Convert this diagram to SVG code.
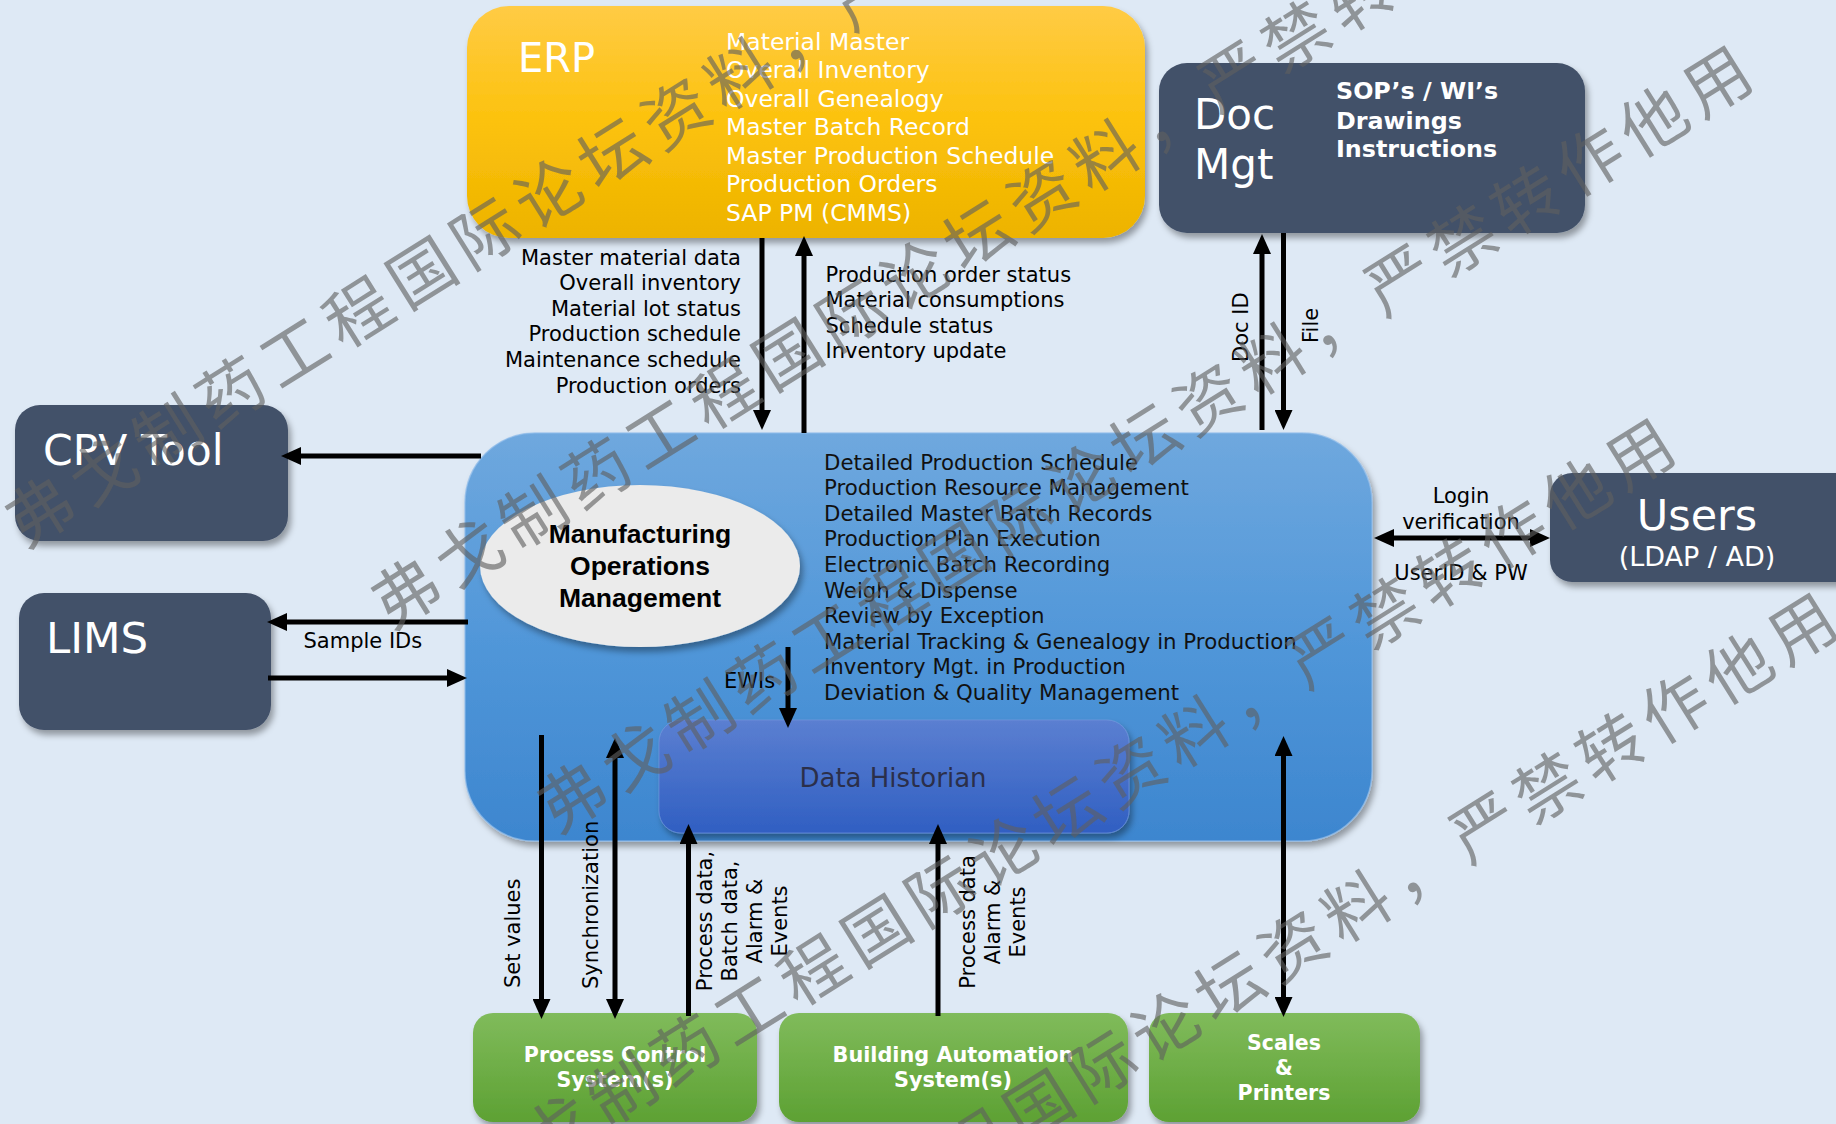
<svg xmlns="http://www.w3.org/2000/svg" width="1836" height="1124" viewBox="0 0 1836 1124">
<defs>
<style>
.t{font-family:"DejaVu Sans",Verdana,sans-serif}
.b{font-family:"DejaVu Sans",Verdana,sans-serif;font-weight:bold}
.w{fill:#ffffff}
.k{fill:#000000;font-size:21px}
.dark{fill:#435169}
.line{stroke:#000;stroke-width:5;fill:none}
.wm{font-family:"Noto Sans CJK SC","Noto Sans CJK JP",sans-serif;font-size:66px;letter-spacing:9px;fill:#5f5f5f;fill-opacity:0.62}
</style>
<linearGradient id="gErp" x1="0" y1="0" x2="0" y2="1"><stop offset="0" stop-color="#ffcb45"/><stop offset="0.5" stop-color="#fcc20c"/><stop offset="1" stop-color="#edb300"/></linearGradient>
<linearGradient id="gMom" x1="0" y1="0" x2="0" y2="1"><stop offset="0" stop-color="#6fa8de"/><stop offset="0.5" stop-color="#5197d9"/><stop offset="1" stop-color="#3d86cf"/></linearGradient>
<linearGradient id="gHist" x1="0" y1="0" x2="0" y2="1"><stop offset="0" stop-color="#5b7fd1"/><stop offset="1" stop-color="#305fc2"/></linearGradient>
<linearGradient id="gGreen" x1="0" y1="0" x2="0" y2="1"><stop offset="0" stop-color="#80bb5b"/><stop offset="1" stop-color="#5da133"/></linearGradient>
<filter id="sh" x="-10%" y="-10%" width="125%" height="140%"><feDropShadow dx="3" dy="5" stdDeviation="3" flood-color="#000" flood-opacity="0.35"/></filter>
<marker id="ah" markerUnits="userSpaceOnUse" viewBox="0 -9 20 18" markerWidth="20" markerHeight="18" refX="1" refY="0" orient="auto-start-reverse"><path d="M0,-9 L20,0 L0,9 Z" fill="#000"/></marker>
</defs>
<rect width="1836" height="1124" fill="#dee9f5"/>

<g id="erp">
<rect x="467" y="6" width="678" height="232" rx="42" fill="url(#gErp)" filter="url(#sh)"/>
<text class="t w" x="518" y="72" font-size="40">ERP</text>
<text class="t w" font-size="23.5"><tspan x="726" y="49.5">Material Master</tspan><tspan x="726" y="78">Overall Inventory</tspan><tspan x="726" y="106.5">Overall Genealogy</tspan><tspan x="726" y="135">Master Batch Record</tspan><tspan x="726" y="163.5">Master Production Schedule</tspan><tspan x="726" y="192">Production Orders</tspan><tspan x="726" y="220.5">SAP PM (CMMS)</tspan></text>
</g>

<g id="docmgt">
<rect class="dark" x="1159" y="63" width="426" height="170" rx="28" filter="url(#sh)"/>
<text class="t w" font-size="42"><tspan x="1194" y="129">Doc</tspan><tspan x="1194" y="179">Mgt</tspan></text>
<text class="b w" font-size="23.8"><tspan x="1336" y="99">SOP’s / WI’s</tspan><tspan x="1336" y="128.5">Drawings</tspan><tspan x="1336" y="157">Instructions</tspan></text>
</g>

<g id="cpv">
<rect class="dark" x="15" y="405" width="273" height="136" rx="25" filter="url(#sh)"/>
<text class="t w" x="43" y="465" font-size="42.5">CPV Tool</text>
</g>

<g id="lims">
<rect class="dark" x="19" y="593" width="252" height="137" rx="25" filter="url(#sh)"/>
<text class="t w" x="46" y="653" font-size="43.5">LIMS</text>
</g>

<g id="users">
<rect class="dark" x="1550" y="473" width="320" height="109" rx="22" filter="url(#sh)"/>
<text class="t w" x="1697" y="530" font-size="43" text-anchor="middle">Users</text>
<text class="t w" x="1697" y="566" font-size="27" text-anchor="middle">(LDAP / AD)</text>
</g>

<g id="mom">
<rect x="465" y="433" width="907" height="408" rx="70" fill="url(#gMom)" stroke="#8dbbe9" stroke-width="1.5" stroke-opacity="0.7" filter="url(#sh)"/>
<ellipse cx="640" cy="566" rx="160" ry="81" fill="#ebebeb" filter="url(#sh)"/>
<text font-family="'Liberation Sans',Arial,sans-serif" font-weight="bold" font-size="26.5" fill="#000" text-anchor="middle"><tspan x="640" y="543">Manufacturing</tspan><tspan x="640" y="575">Operations</tspan><tspan x="640" y="607">Management</tspan></text>
<text class="t" font-size="21.3" fill="#111"><tspan x="824" y="469.5">Detailed Production Schedule</tspan><tspan x="824" y="495.1">Production Resource Management</tspan><tspan x="824" y="520.7">Detailed Master Batch Records</tspan><tspan x="824" y="546.3">Production Plan Execution</tspan><tspan x="824" y="571.9">Electronic Batch Recording</tspan><tspan x="824" y="597.5">Weigh &amp; Dispense</tspan><tspan x="824" y="623.1">Review by Exception</tspan><tspan x="824" y="648.7">Material Tracking &amp; Genealogy in Production</tspan><tspan x="824" y="674.3">Inventory Mgt. in Production</tspan><tspan x="824" y="699.9">Deviation &amp; Quality Management</tspan></text>
</g>

<g id="historian">
<rect x="659" y="720" width="470" height="113" rx="22" fill="url(#gHist)" stroke="#7b9be0" stroke-width="1" stroke-opacity="0.6" filter="url(#sh)"/>
<text class="t" x="893" y="787" font-size="26" fill="#2b2f4a" text-anchor="middle">Data Historian</text>
</g>

<g id="pcs">
<rect x="473" y="1013" width="284" height="109" rx="20" fill="url(#gGreen)" filter="url(#sh)"/>
<text class="b w" font-size="20.6" text-anchor="middle"><tspan x="615" y="1062">Process Control</tspan><tspan x="615" y="1087">System(s)</tspan></text>
</g>

<g id="bas">
<rect x="779" y="1013" width="349" height="109" rx="20" fill="url(#gGreen)" filter="url(#sh)"/>
<text class="b w" font-size="20.8" text-anchor="middle"><tspan x="953" y="1062">Building Automation</tspan><tspan x="953" y="1087">System(s)</tspan></text>
</g>

<g id="scales">
<rect x="1149" y="1013" width="271" height="109" rx="20" fill="url(#gGreen)" filter="url(#sh)"/>
<text class="b w" font-size="20.5" text-anchor="middle"><tspan x="1284" y="1050">Scales</tspan><tspan x="1284" y="1075">&amp;</tspan><tspan x="1284" y="1100">Printers</tspan></text>
</g>

<g id="connectors">
<path class="line" d="M762,238 V411" marker-end="url(#ah)"/>
<path class="line" d="M804,433 V255" marker-end="url(#ah)"/>
<path class="line" d="M1262,430 V253" marker-end="url(#ah)"/>
<path class="line" d="M1283.5,233 V411" marker-end="url(#ah)"/>
<path class="line" d="M481,456 H300" marker-end="url(#ah)"/>
<path class="line" d="M468,622 H286" marker-end="url(#ah)"/>
<path class="line" d="M268,678 H448" marker-end="url(#ah)"/>
<path class="line" d="M1393,538 H1531" marker-start="url(#ah)" marker-end="url(#ah)"/>
<path class="line" d="M788,647 V709" marker-end="url(#ah)"/>
<path class="line" d="M541.5,735 V1000" marker-end="url(#ah)"/>
<path class="line" d="M615,757 V1000" marker-start="url(#ah)" marker-end="url(#ah)"/>
<path class="line" d="M688.5,1016 V843" marker-end="url(#ah)"/>
<path class="line" d="M938,1016 V843" marker-end="url(#ah)"/>
<path class="line" d="M1283.5,755 V998" marker-start="url(#ah)" marker-end="url(#ah)"/>

<text class="t k" text-anchor="end"><tspan x="741" y="264.5">Master material data</tspan><tspan x="741" y="290.1">Overall inventory</tspan><tspan x="741" y="315.7">Material lot status</tspan><tspan x="741" y="341.3">Production schedule</tspan><tspan x="741" y="366.9">Maintenance schedule</tspan><tspan x="741" y="392.5">Production orders</tspan></text>
<text class="t k"><tspan x="825.5" y="281.5">Production order status</tspan><tspan x="825.5" y="307.1">Material consumptions</tspan><tspan x="825.5" y="332.7">Schedule status</tspan><tspan x="825.5" y="358.3">Inventory update</tspan></text>
<text class="t k" transform="translate(1248,362) rotate(-90)">Doc ID</text>
<text class="t k" transform="translate(1318,343) rotate(-90)">File</text>
<text class="t k" text-anchor="middle"><tspan x="1461" y="503">Login</tspan><tspan x="1461" y="529">verification</tspan><tspan x="1461" y="580">UserID &amp; PW</tspan></text>
<text class="t k" x="303.5" y="648">Sample IDs</text>
<text class="t k" x="724" y="688">EWIs</text>
<text class="t k" transform="translate(520,988) rotate(-90)">Set values</text>
<text class="t k" transform="translate(598,989) rotate(-90)">Synchronization</text>
<text class="t k" text-anchor="middle" transform="translate(0,921) rotate(-90)"><tspan x="0" y="712">Process data,</tspan><tspan x="0" y="737">Batch data,</tspan><tspan x="0" y="762">Alarm &amp;</tspan><tspan x="0" y="787">Events</tspan></text>
<text class="t k" text-anchor="middle" transform="translate(0,922) rotate(-90)"><tspan x="0" y="975">Process data</tspan><tspan x="0" y="1000">Alarm &amp;</tspan><tspan x="0" y="1025">Events</tspan></text>
</g>

<g id="watermark" transform="rotate(-32)">
<text class="wm" x="-270" y="479">弗戈制药工程国际论坛资料，严禁转作他用</text>
<text class="wm" x="-3" y="742">弗戈制药工程国际论坛资料，严禁转作他用</text>
<text class="wm" x="30" y="1003">弗戈制药工程国际论坛资料，严禁转作他用</text>
<text class="wm" x="-233" y="1278">弗戈制药工程国际论坛资料，严禁转作他用</text>
<text class="wm" x="-188" y="1512">弗戈制药工程国际论坛资料，严禁转作他用</text>
</g>
</svg>
